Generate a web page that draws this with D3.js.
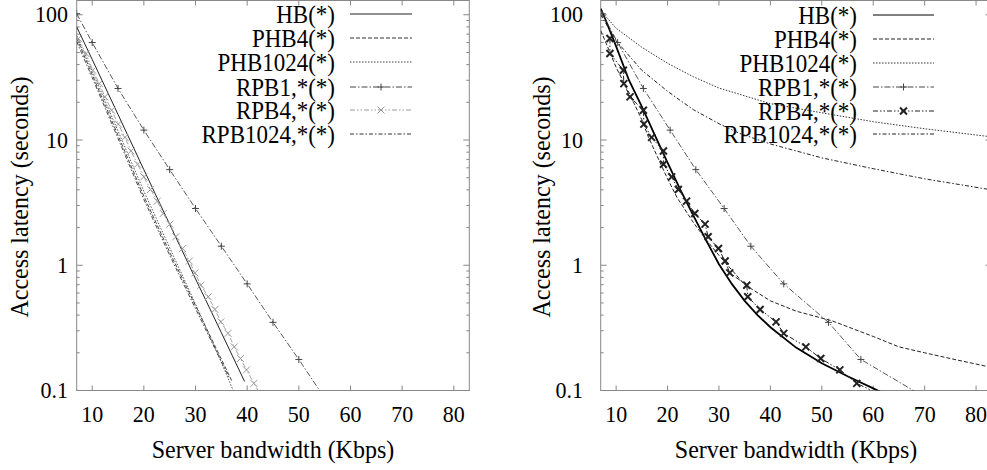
<!DOCTYPE html>
<html><head><meta charset="utf-8">
<script src="https://cdn.jsdelivr.net/npm/d3@7"></script>
<style>
body{margin:0;background:#fff}
svg{display:block;background:#fff}
</style>
</head><body>
<svg id="c" width="987" height="470"></svg>
<script>
// ---------- data ----------
const seriesNames = ["HB(*)", "PHB4(*)", "PHB1024(*)", "RPB1,*(*)", "RPB4,*(*)", "RPB1024,*(*)"];
const xTicks = [10, 20, 30, 40, 50, 60, 70, 80];
const yTicks = [0.1, 1, 10, 100];
const yTickLabels = ["0.1", "1", "10", "100"];
const xTitle = "Server bandwidth (Kbps)";
const yTitle = "Access latency (seconds)";

// left panel
const hbLeftX = [7, 10, 15, 20, 25, 30, 35, 39.5];
const hbLeftY = [80, 44, 16, 5.8, 2.12, 0.78, 0.29, 0.118];
const phb4LeftX = [7, 10, 15, 20, 25, 30, 35, 37];
const phb4LeftY = [65, 33.3, 10.9, 3.56, 1.27, 0.475, 0.178, 0.12];
const phb1024LeftX = [7, 10, 15, 20, 25, 30, 35, 37.3];
const phb1024LeftY = [68, 35.5, 11.8, 3.9, 1.38, 0.49, 0.168, 0.1];
const rpb1024LeftX = [7, 10, 15, 20, 25, 30, 35, 36.6];
const rpb1024LeftY = [61, 31.5, 10.3, 3.35, 1.2, 0.45, 0.17, 0.125];
const rpb1LeftX = [7, 10, 15, 20, 25, 30, 35, 40, 45, 50, 55];
const rpb1Y = [102, 60, 25.8, 12, 5.8, 2.84, 1.42, 0.71, 0.35, 0.177, 0.087];
const rpb4LeftX = [7.32, 8.8, 10.09, 11.38, 12.47, 13.76, 15.05, 16.34, 17.5, 18.79, 20.0, 21.3, 22.6, 23.75, 25.04, 26.2, 27.5, 28.8, 29.88, 31.04, 32.46, 33.75, 34.9, 36.3, 37.5, 38.7, 39.87, 41.3, 42.6];
const rpb4Y = [64.6, 49.0, 36.1, 28.2, 22.1, 17.3, 13.4, 10.5, 8.18, 6.41, 5.08, 4.03, 3.25, 2.59, 2.13, 1.69, 1.36, 1.08, 0.869, 0.693, 0.56, 0.444, 0.353, 0.286, 0.223, 0.180, 0.146, 0.114, 0.092];

// right panel
const hbRightX = [7, 8, 10, 12.5, 15, 17.5, 20, 22.5, 25, 27.5, 30, 32.5, 35, 37.5, 40, 45, 50, 55, 60, 62];
const hbRightY = [112, 90, 56, 30, 18.5, 11, 6.6, 4.0, 2.5, 1.58, 1.02, 0.71, 0.52, 0.40, 0.32, 0.22, 0.165, 0.13, 0.104, 0.095];
const phb4RightX = [7, 8.8, 10, 12.7, 15, 16.3, 20, 21.8, 25, 27.5, 30, 35, 40, 45, 52, 60, 65, 70, 75, 83];
const phb4RightY = [75, 50, 38, 23, 14.5, 10.5, 4.9, 3.5, 2.2, 1.6, 1.2, 0.7, 0.52, 0.43, 0.36, 0.27, 0.223, 0.2, 0.18, 0.153];
const phb1024RightX = [7, 10, 15, 20, 25, 30, 40, 50, 60, 70, 83];
const phb1024RightY = [108, 78, 55, 41, 32, 26, 19.5, 16.5, 14, 12.3, 10.6];
const rpb1024RightX = [7, 10, 15, 20, 22.4, 25, 30, 34, 40, 50, 60, 70, 83];
const rpb1024RightY = [100, 62, 36, 24.5, 20.8, 17.5, 13.5, 11.3, 9.3, 7.2, 5.9, 4.9, 4.0];
const rpb1RightX = [7.3, 10.3, 15.3, 20.5, 25.5, 31.0, 36.2, 42.6, 51.3, 57.6, 70.3];
const rpb4RightX = [8.8, 8.8, 11.4, 11.5, 12.7, 15.3, 15.4, 16.9, 19.2, 19.2, 20.8, 22.1, 23.7, 25.3, 27.3, 27.9, 29.9, 31.2, 32.1, 35.4, 35.6, 38.0, 41.1, 42.6, 46.9, 49.8, 53.5, 56.8, 61.5];

const xDomain = [7, 83];
const yDomain = [0.1, 130];

// ---------- drawing ----------
const FONT = "'Liberation Serif', Tinos, 'Times New Roman', Times, 'DejaVu Serif', serif";
const svg = d3.select("#c").attr("font-family", FONT);
const zip = (xs, ys) => xs.map((v, i) => [v, ys[i]]);

const styles = [
  {dash: null, marker: null},
  {dash: "4,2", marker: null},
  {dash: "1.5,1.5", marker: null},
  {dash: "6,2,1.5,2", marker: "plus"},
  {dash: "5,2,1.5,2,1.5,2", marker: "cross"},
  {dash: "4,2,1.5,2", marker: null}
];

function txt(g, x, y, s, size, anchor, rot) {
  return g.append("text")
    .attr("transform", `translate(${x},${y})` + (rot ? ` rotate(${rot})` : "") + " scale(1,1.06)")
    .attr("font-family", FONT)
    .attr("font-size", size)
    .attr("fill", "#000")
    .attr("text-anchor", anchor)
    .text(s);
}

function markerPath(type, s) {
  if (type === "plus") return `M${-s},0H${s}M0,${-s}V${s}`;
  return `M${-s},${-s}L${s},${s}M${-s},${s}L${s},${-s}`;
}

function panel(cfg) {
  const x = d3.scaleLinear().domain(xDomain).range([cfg.x0, cfg.x1]);
  const y = d3.scaleLog().domain(yDomain).range([cfg.y0, cfg.y1]);
  const g = svg.append("g");
  const clipId = "clip" + cfg.id;
  svg.append("clipPath").attr("id", clipId).append("rect")
    .attr("x", cfg.x0).attr("y", cfg.y1).attr("width", cfg.x1 - cfg.x0).attr("height", cfg.y0 - cfg.y1);

  const axisColor = "#888";
  g.append("rect").attr("x", cfg.x0).attr("y", cfg.y1).attr("width", cfg.x1 - cfg.x0).attr("height", cfg.y0 - cfg.y1)
    .attr("fill", "none").attr("stroke", axisColor).attr("stroke-width", 1);

  const minor = [];
  for (let e = -1; e <= 2; e++) for (let m = 2; m <= 9; m++) { const v = m * Math.pow(10, e); if (v < yDomain[1]) minor.push(v); }
  const tk = g.append("g").attr("stroke", axisColor).attr("stroke-width", 1);
  yTicks.forEach(v => {
    tk.append("line").attr("x1", cfg.x0).attr("x2", cfg.x0 + 6).attr("y1", y(v)).attr("y2", y(v));
    tk.append("line").attr("x1", cfg.x1).attr("x2", cfg.x1 - 6).attr("y1", y(v)).attr("y2", y(v));
  });
  minor.forEach(v => {
    tk.append("line").attr("x1", cfg.x0).attr("x2", cfg.x0 + 3).attr("y1", y(v)).attr("y2", y(v));
    tk.append("line").attr("x1", cfg.x1).attr("x2", cfg.x1 - 3).attr("y1", y(v)).attr("y2", y(v));
  });
  xTicks.forEach(v => {
    tk.append("line").attr("x1", x(v)).attr("x2", x(v)).attr("y1", cfg.y0).attr("y2", cfg.y0 - 5);
    tk.append("line").attr("x1", x(v)).attr("x2", x(v)).attr("y1", cfg.y1).attr("y2", cfg.y1 + 5);
  });

  yTicks.forEach((v, i) => txt(g, cfg.ylabX, y(v) + 7.5, yTickLabels[i], 22, "end"));
  xTicks.forEach(v => txt(g, x(v), 422, String(v), 22, "middle"));

  txt(g, (cfg.x0 + cfg.x1) / 2, 458, xTitle, 24, "middle");
  txt(g, cfg.ytitleX, 197, yTitle, 24, "middle", -90);

  const lg = g.append("g");
  seriesNames.forEach((n, i) => {
    const ry = cfg.legY[i];
    txt(lg, cfg.legTextX, ry + 8.5, n, 23, "end");
    const st = styles[i];
    const col = cfg.colors[i];
    lg.append("line").attr("x1", cfg.legX0).attr("x2", cfg.legX1).attr("y1", ry).attr("y2", ry)
      .attr("stroke", col).attr("stroke-width", 1).attr("stroke-dasharray", st.dash);
    if (st.marker) {
      lg.append("path").attr("d", markerPath(st.marker, 3.5))
        .attr("transform", `translate(${(cfg.legX0 + cfg.legX1) / 2},${ry})`)
        .attr("stroke", col).attr("stroke-width", cfg.markerW[i]).attr("fill", "none");
    }
  });

  const line = d3.line().x(d => x(d[0])).y(d => y(d[1]));
  const sg = g.append("g").attr("clip-path", `url(#${clipId})`);
  cfg.data.forEach((pts, i) => {
    const st = styles[i];
    const col = cfg.colors[i];
    sg.append("path").datum(pts).attr("d", line).attr("fill", "none")
      .attr("stroke", col).attr("stroke-width", cfg.widths[i]).attr("stroke-dasharray", st.dash);
    if (st.marker) {
      sg.selectAll(null).data(pts).enter().append("path")
        .attr("d", markerPath(st.marker, 3.5))
        .attr("transform", d => `translate(${x(d[0])},${y(d[1])})`)
        .attr("stroke", col).attr("stroke-width", cfg.markerW[i]).attr("fill", "none");
    }
  });
}

panel({
  id: "L", x0: 76.7, x1: 469.3, y0: 390.5, y1: 0.5,
  ylabX: 68, ytitleX: 27.5,
  legTextX: 335, legX0: 350, legX1: 412, legY: [14, 38, 62, 87, 110, 134],
  widths: [1, 0.9, 0.9, 0.9, 0.9, 0.9], markerW: [1, 1, 1, 1, 1, 1],
  colors: ["#222", "#333", "#444", "#444", "#999", "#333"],
  data: [zip(hbLeftX, hbLeftY), zip(phb4LeftX, phb4LeftY), zip(phb1024LeftX, phb1024LeftY),
         zip(rpb1LeftX, rpb1Y), zip(rpb4LeftX, rpb4Y), zip(rpb1024LeftX, rpb1024LeftY)]
});

panel({
  id: "R", x0: 600.7, x1: 991.5, y0: 390.5, y1: 0.5,
  ylabX: 583, ytitleX: 550,
  legTextX: 857, legX0: 873, legX1: 934, legY: [15, 39, 63, 87, 111, 134],
  widths: [1.8, 1, 1, 0.9, 1, 1], markerW: [1, 1, 1, 1, 2, 1],
  colors: ["#000", "#222", "#333", "#444", "#222", "#222"],
  data: [zip(hbRightX, hbRightY), zip(phb4RightX, phb4RightY), zip(phb1024RightX, phb1024RightY),
         zip(rpb1RightX, rpb1Y), zip(rpb4RightX, rpb4Y), zip(rpb1024RightX, rpb1024RightY)]
});
</script>
</body></html>
